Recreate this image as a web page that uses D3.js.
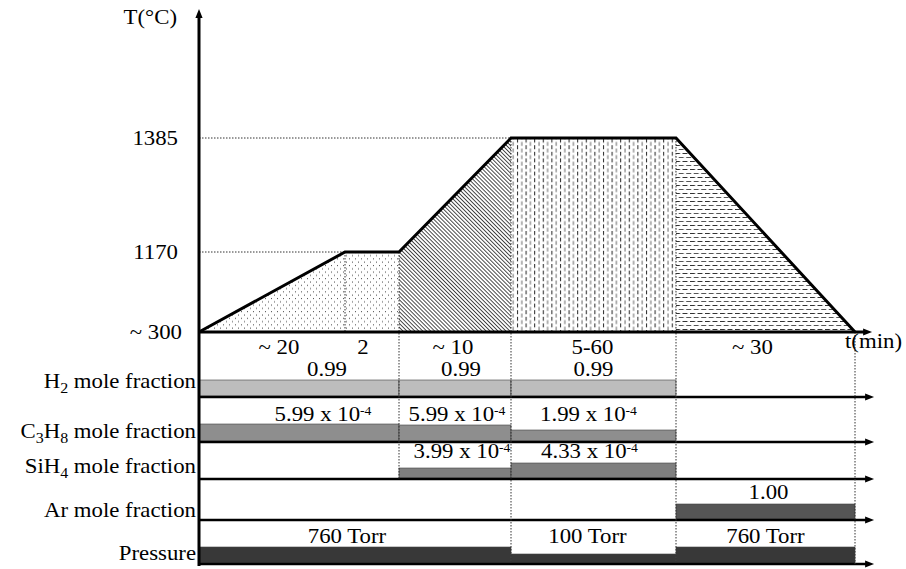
<!DOCTYPE html>
<html>
<head>
<meta charset="utf-8">
<script src="https://cdn.jsdelivr.net/npm/d3@7"></script>
<style>
  body { margin: 0; background: #fff; }
  text { font-family: "Liberation Serif", "Times New Roman", serif; fill: #000; }
</style>
</head>
<body>
<div id="chart"></div>
<script>
// ---- data ----
var phaseLabels = ["~ 20", "2", "~ 10", "5-60", "~ 30"];
var phaseBreaks = [0, 20, 22, 32, 62, 92];          // nominal minutes (schematic)
var profileTime = [0, 20, 22, 32, 62, 92];
var profileTemp = [300, 1170, 1170, 1385, 1385, 300];
var tempTicks = [300, 1170, 1385];
var tempTickLabels = ["~ 300", "1170", "1385"];

var h2Values   = [{t0: 0, t1: 22, v: 0.99}, {t0: 22, t1: 32, v: 0.99}, {t0: 32, t1: 62, v: 0.99}];
var c3h8Values = [{t0: 0, t1: 22, v: 5.99e-4}, {t0: 22, t1: 32, v: 5.99e-4}, {t0: 32, t1: 62, v: 1.99e-4}];
var sih4Values = [{t0: 22, t1: 32, v: 3.99e-4}, {t0: 32, t1: 62, v: 4.33e-4}];
var arValues   = [{t0: 62, t1: 92, v: 1.00}];
var pressValues = [{t0: 0, t1: 32, v: 760}, {t0: 32, t1: 62, v: 100}, {t0: 62, t1: 92, v: 760}];

// ---- layout ----
var width = 906, height = 569;
var x0 = 199;
var segW = [146, 54, 112, 165, 179];        // schematic width of each phase
var tempPx = [332, 252, 138];               // schematic height of each temperature level
var sx = 1.14;                              // the source font is stretched sideways
var fs = 20;

var xBreaks = [x0];
segW.forEach(function(w, i) { xBreaks.push(xBreaks[i] + w); });

var x = d3.scaleLinear().domain(phaseBreaks).range(xBreaks);
var y = d3.scaleLinear().domain(tempTicks).range(tempPx);

var svg = d3.select("#chart").append("svg")
    .attr("width", width)
    .attr("height", height);

var defs = svg.append("defs");

// arrow head
defs.append("marker")
    .attr("id", "arrow")
    .attr("markerUnits", "userSpaceOnUse")
    .attr("viewBox", "0 -5 10 10")
    .attr("refX", 1).attr("refY", 0)
    .attr("markerWidth", 10).attr("markerHeight", 9)
    .attr("orient", "auto")
  .append("path")
    .attr("d", "M0,-4 L10,0 L0,4 Z")
    .attr("fill", "#000");

// fill patterns
var dots = defs.append("pattern").attr("id", "dots")
    .attr("patternUnits", "userSpaceOnUse").attr("width", 6).attr("height", 6.6);
dots.append("rect").attr("x", 1).attr("y", 1).attr("width", 1).attr("height", 1).attr("fill", "#444");
dots.append("rect").attr("x", 4).attr("y", 4.3).attr("width", 1).attr("height", 1).attr("fill", "#444");

var hatch = defs.append("pattern").attr("id", "hatch")
    .attr("patternUnits", "userSpaceOnUse").attr("width", 2.8).attr("height", 10)
    .attr("patternTransform", "rotate(-45)");
hatch.append("rect").attr("x", 0).attr("y", 0).attr("width", 0.9).attr("height", 10).attr("fill", "#3a3a3a");

var vdash = defs.append("pattern").attr("id", "vdash")
    .attr("patternUnits", "userSpaceOnUse").attr("width", 8.6).attr("height", 6.6);
vdash.append("rect").attr("x", 1).attr("y", 0).attr("width", 1).attr("height", 4).attr("fill", "#222");
vdash.append("rect").attr("x", 5.3).attr("y", 3.3).attr("width", 1).attr("height", 4).attr("fill", "#666");
vdash.append("rect").attr("x", 5.3).attr("y", -3.3).attr("width", 1).attr("height", 4).attr("fill", "#666");

var hdash = defs.append("pattern").attr("id", "hdash")
    .attr("patternUnits", "userSpaceOnUse").attr("width", 7.5).attr("height", 8);
hdash.append("rect").attr("x", 0).attr("y", 1).attr("width", 5).attr("height", 1).attr("fill", "#333");
hdash.append("rect").attr("x", 3.7).attr("y", 5).attr("width", 5).attr("height", 1).attr("fill", "#555");
hdash.append("rect").attr("x", -3.8).attr("y", 5).attr("width", 5).attr("height", 1).attr("fill", "#555");

var phaseFill = ["url(#dots)", "url(#dots)", "url(#hatch)", "url(#vdash)", "url(#hdash)"];

// helper for stretched serif text
function label(g, px, py, anchor) {
    return g.append("text")
        .attr("transform", "translate(" + px + "," + py + ") scale(" + sx + ",1)")
        .attr("text-anchor", anchor)
        .style("font-size", fs + "px");
}

// ---- temperature profile fills ----
var area = d3.area()
    .x(function(d) { return x(d.t); })
    .y0(y(300))
    .y1(function(d) { return y(d.T); });

var profile = profileTime.map(function(t, i) { return {t: t, T: profileTemp[i]}; });

for (var i = 0; i < phaseLabels.length; i++) {
    svg.append("path")
        .datum([profile[i], profile[i + 1]])
        .attr("d", area)
        .attr("fill", phaseFill[i]);
}

// dotted guides
var guide = svg.append("g")
    .attr("stroke", "#333")
    .attr("stroke-width", 1)
    .attr("stroke-dasharray", "1.5,1.5")
    .attr("fill", "none");

guide.append("line").attr("x1", x0).attr("x2", x(32)).attr("y1", y(1385)).attr("y2", y(1385));
guide.append("line").attr("x1", x0).attr("x2", x(20)).attr("y1", y(1170)).attr("y2", y(1170));

// rows of the gas table
var rows = [
    {name: ["H", "2", " mole fraction"], data: h2Values, fill: "#bdbdbd", line: 397, nameY: 388, h: [16, 16, 16], dx: [28, 6, 0]},
    {name: ["C", "3", "H", "8", " mole fraction"], data: c3h8Values, fill: "#8e8e8e", line: 442, nameY: 438, h: [17, 16, 11], dx: [24, 2, -5]},
    {name: ["SiH", "4", " mole fraction"], data: sih4Values, fill: "#7f7f7f", line: 479, nameY: 473, h: [10, 15], dx: [7, -4]},
    {name: ["Ar mole fraction"], data: arValues, fill: "#555", line: 520, nameY: 517, h: [15], dx: [3]},
    {name: ["Pressure"], data: pressValues, fill: "#383838", line: 564, nameY: 560, h: [16, 9, 16], dx: [-8, -6, 0]}
];

function sci(v) {
    var e = Math.floor(Math.log10(v));
    return [(v / Math.pow(10, e)).toFixed(2) + " x 10", String(e)];
}

rows.forEach(function(r, ri) {
    var g = svg.append("g");
    g.selectAll("rect")
        .data(r.data)
        .enter().append("rect")
        .attr("x", function(d) { return x(d.t0); })
        .attr("width", function(d) { return x(d.t1) - x(d.t0); })
        .attr("y", function(d, j) { return r.line - 1 - r.h[j]; })
        .attr("height", function(d, j) { return r.h[j]; })
        .attr("fill", r.fill)
        .attr("stroke", "#444")
        .attr("stroke-width", 0.6);

    r.data.forEach(function(d, j) {
        var t = label(g, (x(d.t0) + x(d.t1)) / 2 + r.dx[j], r.line - 21, "middle");
        if (ri === 1 || ri === 2) {
            var s = sci(d.v);
            t.append("tspan").text(s[0]);
            t.append("tspan").attr("dy", -6).style("font-size", "12px").text(s[1]);
        } else if (ri === 4) {
            t.text(d.v + " Torr");
        } else {
            t.text(d.v.toFixed(2));
        }
    });

    var n = label(g, 196, r.nameY, "end");
    r.name.forEach(function(part, k) {
        var sub = /^[0-9]$/.test(part);
        var ts = n.append("tspan").text(part);
        if (sub) ts.attr("dy", 5).style("font-size", "14px");
        else if (k > 0 && /^[0-9]$/.test(r.name[k - 1])) ts.attr("dy", -5);
    });

    g.append("line")
        .attr("x1", x0).attr("x2", 866)
        .attr("y1", r.line).attr("y2", r.line)
        .attr("stroke", "#000").attr("stroke-width", 2.5)
        .attr("marker-end", "url(#arrow)");
});

// vertical dotted phase borders
var vGuides = [
    {t: 20, top: y(1170), bottom: y(300)},
    {t: 22, top: y(1170), bottom: rows[2].line},
    {t: 32, top: y(1385), bottom: rows[4].line},
    {t: 62, top: y(1385), bottom: rows[4].line},
    {t: 92, top: y(300), bottom: rows[4].line}
];
guide.selectAll(".v")
    .data(vGuides)
    .enter().append("line")
    .attr("x1", function(d) { return x(d.t); })
    .attr("x2", function(d) { return x(d.t); })
    .attr("y1", function(d) { return d.top; })
    .attr("y2", function(d) { return d.bottom; });
guide.raise();

// temperature profile line
svg.append("path")
    .datum(profile)
    .attr("d", d3.line().x(function(d) { return x(d.t); }).y(function(d) { return y(d.T); }))
    .attr("fill", "none")
    .attr("stroke", "#000")
    .attr("stroke-width", 3)
    .attr("stroke-linejoin", "miter");

// time axis
svg.append("line")
    .attr("x1", x0).attr("x2", 864)
    .attr("y1", y(300)).attr("y2", y(300))
    .attr("stroke", "#000").attr("stroke-width", 3)
    .attr("marker-end", "url(#arrow)");

// temperature axis
svg.append("line")
    .attr("x1", x0).attr("x2", x0)
    .attr("y1", 566).attr("y2", 17)
    .attr("stroke", "#000").attr("stroke-width", 3)
    .attr("marker-end", "url(#arrow)");

// tick labels
var tickDx = [182, 178, 178];
tempTicks.forEach(function(T, i) {
    label(svg, tickDx[i], y(T) + 7, "end").text(tempTickLabels[i]);
});
label(svg, 177, 24, "end").text("T(\u00B0C)");

// phase duration labels
var phaseDx = [7, -9, -2, -1, -13];
phaseLabels.forEach(function(s, i) {
    label(svg, (x(phaseBreaks[i]) + x(phaseBreaks[i + 1])) / 2 + phaseDx[i], 354, "middle").text(s);
});
label(svg, 845, 348, "start").text("t(min)");
</script>
</body>
</html>
